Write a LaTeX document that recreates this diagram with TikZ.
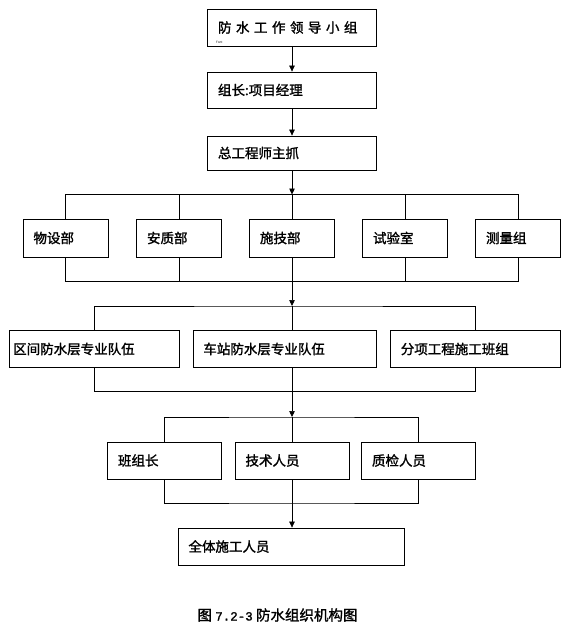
\documentclass[tikz,border=0pt]{standalone}
\usepackage{fontspec}
\setmainfont{Noto Sans CJK SC}
\newfontfamily\boxfont{Noto Sans CJK SC}[FakeBold=1.5]
\newfontfamily\monofont{Liberation Mono}[FakeBold=1.5]
\usetikzlibrary{arrows.meta}

\begin{document}
\begin{tikzpicture}[x=1pt, y=-1pt,
  box/.style={draw, line width=0.8pt, inner xsep=10.5pt, inner ysep=0pt, align=left,
    font=\boxfont\fontsize{13.5}{16}\selectfont},
  link/.style={line width=0.7pt},
  arr/.style={link, -{Triangle[length=6pt, width=5.5pt]}}]
\useasboundingbox (0,0) rectangle (576,634);
\node[box, text width=148, minimum height=37] at(292, 27.5)(lead){\makebox[148pt][s]{防 水 工 作 领 导 小 组}};
\node[anchor=west, inner sep=0pt, font=\fontsize{3}{3}\selectfont] at(216, 42)(fnt){Font};
\node[box, text width=148, minimum height=36] at(292, 90)(mgr){组长:项目经理};
\node[box, text width=148, minimum height=34] at(292, 153)(chief){总工程师主抓};
\node[box, text width=64, minimum height=38] at(65.5, 238)(wsb){物设部};
\node[box, text width=64, minimum height=38] at(179, 238)(azb){安质部};
\node[box, text width=64, minimum height=38] at(292, 238)(sjb){施技部};
\node[box, text width=64, minimum height=38] at(405, 238)(sys){试验室};
\node[box, text width=64, minimum height=38] at(518, 238)(clz){测量组};
\node[box, inner xsep=4pt, text width=162, minimum height=36.5] at(94.2, 349)(qj){区间防水层专业队伍};
\node[box, text width=162, minimum height=36.5] at(284.4, 349)(cz){车站防水层专业队伍};
\node[box, text width=149, minimum height=36.5] at(475.3, 349)(fx){分项工程施工班组};
\node[box, text width=93, minimum height=37] at(164.5, 460.5)(bzz){班组长};
\node[box, text width=93, minimum height=37] at(292, 460.5)(jsry){技术人员};
\node[box, text width=93, minimum height=37] at(418.5, 460.5)(zjry){质检人员};
\node[box, text width=205, minimum height=37] at(291, 546.5)(qtsg){全体施工人员};
\node[font=\boxfont\fontsize{14.5}{16}\selectfont] at(277.5, 615)(cap){图 {\monofont\fontsize{12.5}{14}\selectfont 7.2-3} 防水组织机构图};
\coordinate (t1) at(292, 194.5);
\coordinate (u1) at(292, 281.5);
\coordinate (t2) at(292, 306);
\coordinate (u2) at(292, 391.5);
\coordinate (t3) at(292, 417);
\coordinate (u3) at(292, 503);
\draw[arr] (lead) -- (mgr);
\draw[arr] (mgr) -- (chief);
\draw[arr] (chief) -- (t1);
\draw[link] (wsb.north) |- (t1) -| (clz.north);
\draw[link] (wsb.south) |- (u1) -| (clz.south);
\draw[link] (azb.north) -- (azb.north |- t1) (azb.south) -- (azb.south |- u1);
\draw[link] (sys.north) -- (sys.north |- t1) (sys.south) -- (sys.south |- u1);
\draw[link] (t1) -- (sjb) -- (u1);
\draw[arr] (u1) -- (t2);
\draw[link] (qj.north) |- (t2) -| (fx.north);
\draw[link] (qj.south) |- (u2) -| (fx.south);
\draw[link] (t2) -- (t2 |- cz.north) (u2) -- (u2 |- cz.south);
\draw[arr] (u2) -- (t3);
\draw[link] (bzz.north) |- (t3) -| (zjry.north);
\draw[link] (bzz.south) |- (u3) -| (zjry.south);
\draw[link] (t3) -- (jsry) -- (u3);
\draw[arr] (u3) -- (u3 |- qtsg.north);
\end{tikzpicture}
\end{document}
